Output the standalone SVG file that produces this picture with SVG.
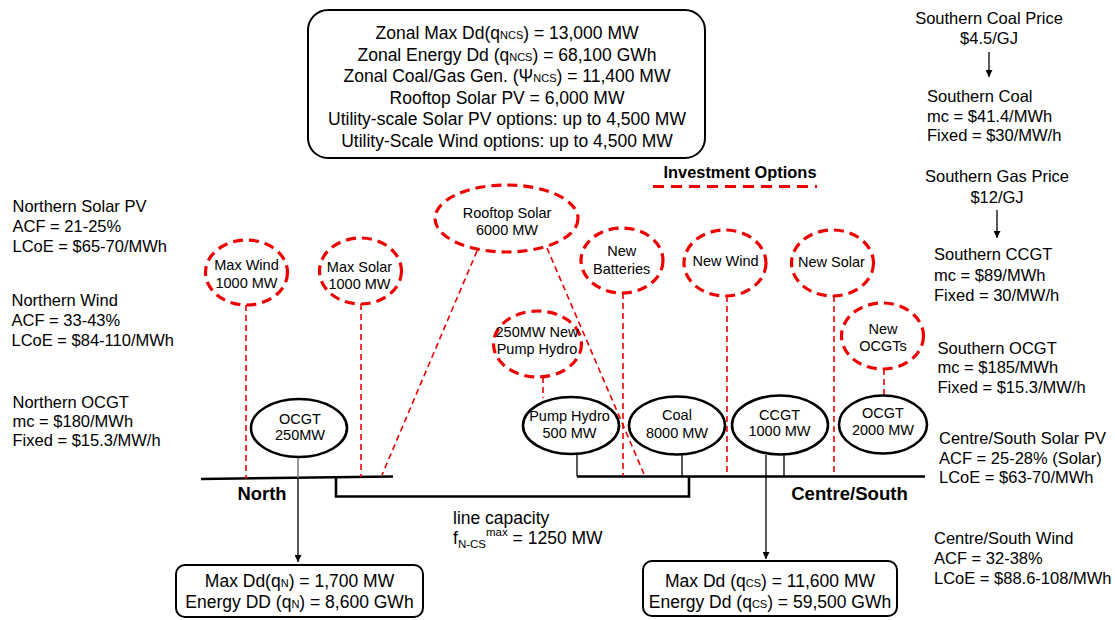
<svg xmlns="http://www.w3.org/2000/svg" width="1115" height="620" viewBox="0 0 1115 620">
<style>
text{font-family:"Liberation Sans",Arial,Helvetica,sans-serif;fill:#000}
.box{fill:#fff;stroke:#000;stroke-width:2}
.gen{fill:#fff;stroke:#000;stroke-width:2.6}
.opt{fill:#fff;stroke:#e00;stroke-width:3.2;stroke-dasharray:10 6}
.rl{fill:none;stroke:#e00;stroke-width:1.6;stroke-dasharray:6 4}
.bus{fill:none;stroke:#000;stroke-width:2.6}
.thin{fill:none;stroke:#000;stroke-width:1.3}
.t14{font-size:14.5px;text-anchor:middle}
.t16{font-size:16.5px}
.t17{font-size:17.5px;text-anchor:middle}
.t18{font-size:18px}
.b{font-weight:bold}
.sm{font-size:11px}
</style>
<defs>
<marker id="arr" viewBox="0 0 10 10" refX="10" refY="5" markerWidth="7" markerHeight="7" markerUnits="userSpaceOnUse" orient="auto">
<path d="M0,0 L10,5 L0,10 z" fill="#000"/>
</marker>
</defs>
<rect width="1115" height="620" fill="#fff"/>

<g id="connectors">
<!-- buses -->
<path class="bus" d="M201,479 L393,476.5"/>
<path class="bus" d="M577,476.5 L925,476.5"/>
<path class="bus" d="M336,477 L336,496.5 L689,496.5 L689,476.5"/>
<!-- generator links -->
<path d="M298,457 L298,478" stroke="#777" stroke-width="1.5" fill="none"/>
<path class="thin" d="M298,478 L298,562" marker-end="url(#arr)"/>
<path class="thin" d="M577,454 L577,476.5"/>
<path class="thin" d="M682,455 L682,476.5"/>
<path class="thin" d="M766,455 L766,559" marker-end="url(#arr)"/>
<path class="thin" d="M784,455 L784,476.5"/>
<!-- price arrows -->
<path class="thin" d="M989,52 L989,77" marker-end="url(#arr)"/>
<path class="thin" d="M997,210 L997,238" marker-end="url(#arr)"/>
<!-- investment option links -->
<path class="rl" d="M246,305 L246,479"/>
<path class="rl" d="M361,304 L361,477"/>
<path class="rl" d="M477,251 L382,475"/>
<path class="rl" d="M547,248 L644,474"/>
<path class="rl" d="M543,377 L543,398"/>
<path class="rl" d="M623,293 L623,476"/>
<path class="rl" d="M727,296 L727,476"/>
<path class="rl" d="M834,296 L834,476"/>
<path class="rl" d="M884,369 L884,395"/>
</g>

<g id="zonal-box">
<rect class="box" x="308" y="10" width="397" height="148" rx="20"/>
<text class="t17" x="507" y="39">Zonal Max Dd(q<tspan class="sm">NCS</tspan>) = 13,000 MW</text>
<text class="t17" x="507" y="60.5">Zonal Energy Dd (q<tspan class="sm">NCS</tspan>) = 68,100 GWh</text>
<text class="t17" x="507" y="82">Zonal Coal/Gas Gen. (Ψ<tspan class="sm">NCS</tspan>) = 11,400 MW</text>
<text class="t17" x="507" y="103.5">Rooftop Solar PV = 6,000 MW</text>
<text class="t17" x="507" y="125">Utility-scale Solar PV options: up to 4,500 MW</text>
<text class="t17" x="507" y="146.5">Utility-Scale Wind options: up to 4,500 MW</text>
</g>

<g id="legend">
<text class="b" x="740" y="178" font-size="16.4" text-anchor="middle">Investment Options</text>
<path d="M653,186.5 L817,186.5" stroke="#e00" stroke-width="3" stroke-dasharray="11 7" fill="none"/>
</g>

<g id="southern-prices" class="t16">
<text x="989" y="24" text-anchor="middle">Southern Coal Price</text>
<text x="989" y="44" text-anchor="middle">$4.5/GJ</text>
<text x="927" y="101.5">Southern Coal</text>
<text x="927" y="121.5">mc = $41.4/MWh</text>
<text x="927" y="141">Fixed = $30/MW/h</text>
<text x="997" y="181.5" text-anchor="middle">Southern Gas Price</text>
<text x="997" y="202.5" text-anchor="middle">$12/GJ</text>
<text x="934" y="260">Southern CCGT</text>
<text x="934" y="280.5">mc = $89/MWh</text>
<text x="934" y="300.5">Fixed = 30/MW/h</text>
<text x="937.5" y="353.5">Southern OCGT</text>
<text x="937.5" y="373">mc = $185/MWh</text>
<text x="937.5" y="393">Fixed = $15.3/MW/h</text>
</g>

<g id="cs-resources" class="t16">
<text x="939" y="443.5">Centre/South Solar PV</text>
<text x="939" y="463.5">ACF = 25-28% (Solar)</text>
<text x="939" y="483">LCoE = $63-70/MWh</text>
<text x="934" y="543.5">Centre/South Wind</text>
<text x="934" y="563.5">ACF = 32-38%</text>
<text x="934" y="583.5">LCoE = $88.6-108/MWh</text>
</g>

<g id="northern-resources" class="t16">
<text x="12.5" y="212">Northern Solar PV</text>
<text x="12.5" y="231.5">ACF = 21-25%</text>
<text x="12.5" y="251.5">LCoE = $65-70/MWh</text>
<text x="11.5" y="306">Northern Wind</text>
<text x="11.5" y="325.5">ACF = 33-43%</text>
<text x="11.5" y="345.5">LCoE = $84-110/MWh</text>
<text x="12.5" y="407.5">Northern OCGT</text>
<text x="12.5" y="427">mc = $180/MWh</text>
<text x="12.5" y="446">Fixed = $15.3/MW/h</text>
</g>

<g id="max-wind">
<ellipse class="opt" cx="246.5" cy="272.5" rx="41" ry="32.5"/>
<text class="t14" x="246.5" y="270">Max Wind</text>
<text class="t14" x="246.5" y="287.5">1000 MW</text>
</g>
<g id="max-solar">
<ellipse class="opt" cx="360.5" cy="271" rx="41" ry="33"/>
<text class="t14" x="359.5" y="271.5">Max Solar</text>
<text class="t14" x="359.5" y="288.5">1000 MW</text>
</g>
<g id="rooftop-solar">
<ellipse class="opt" cx="506.5" cy="218.5" rx="71.5" ry="33.5"/>
<text class="t14" x="507" y="217.5">Rooftop Solar</text>
<text class="t14" x="507" y="235">6000 MW</text>
</g>
<g id="new-pump-hydro">
<ellipse class="opt" cx="537.5" cy="344" rx="44" ry="33"/>
<text class="t14" x="537" y="337">250MW New</text>
<text class="t14" x="537" y="354">Pump Hydro</text>
</g>
<g id="new-batteries">
<ellipse class="opt" cx="622" cy="260.5" rx="41" ry="32.5"/>
<text class="t14" x="621.7" y="256">New</text>
<text class="t14" x="621.7" y="273.5">Batteries</text>
</g>
<g id="new-wind">
<ellipse class="opt" cx="725" cy="263" rx="41" ry="33"/>
<text class="t14" x="725.5" y="266">New Wind</text>
</g>
<g id="new-solar">
<ellipse class="opt" cx="832.5" cy="263" rx="41" ry="33"/>
<text class="t14" x="831.5" y="267">New Solar</text>
</g>
<g id="new-ocgts">
<ellipse class="opt" cx="882.5" cy="336" rx="41" ry="33"/>
<text class="t14" x="883" y="334">New</text>
<text class="t14" x="883" y="351">OCGTs</text>
</g>

<g id="ocgt-north">
<ellipse class="gen" cx="299" cy="428" rx="48" ry="29"/>
<text class="t14" x="300" y="423.5">OCGT</text>
<text class="t14" x="300" y="440">250MW</text>
</g>
<g id="pump-hydro">
<ellipse class="gen" cx="571" cy="425.5" rx="48" ry="28.5"/>
<text class="t14" x="569.5" y="421">Pump Hydro</text>
<text class="t14" x="569.5" y="438">500 MW</text>
</g>
<g id="coal">
<ellipse class="gen" cx="677" cy="425.5" rx="48" ry="29"/>
<text class="t14" x="677" y="420">Coal</text>
<text class="t14" x="677" y="438">8000 MW</text>
</g>
<g id="ccgt">
<ellipse class="gen" cx="780" cy="425" rx="48" ry="29.5"/>
<text class="t14" x="779.5" y="419.5">CCGT</text>
<text class="t14" x="779.5" y="436">1000 MW</text>
</g>
<g id="ocgt-cs">
<ellipse class="gen" cx="883" cy="424.5" rx="44" ry="29"/>
<text class="t14" x="883" y="418">OCGT</text>
<text class="t14" x="883" y="434.5">2000 MW</text>
</g>

<g id="bus-labels">
<text class="b" x="262" y="500" font-size="18.4" text-anchor="middle">North</text>
<text class="b" x="849.5" y="499.5" font-size="18.6" text-anchor="middle">Centre/South</text>
</g>

<g id="line-capacity" class="t18">
<text x="453" y="523.5" font-size="17.5">line capacity</text>
<text x="453" y="543.5" font-size="17.5">f<tspan font-size="11.5" dy="4">N-CS</tspan><tspan font-size="11.5" dy="-12">max</tspan><tspan dy="8"> = 1250 MW</tspan></text>
</g>

<g id="north-demand">
<rect class="box" x="176" y="565" width="247" height="52" rx="9"/>
<text class="t17" x="299.5" y="587" font-size="18">Max Dd(q<tspan class="sm">N</tspan>) = 1,700 MW</text>
<text class="t17" x="299.5" y="607.5" font-size="18">Energy DD (q<tspan class="sm">N</tspan>) = 8,600 GWh</text>
</g>

<g id="cs-demand">
<rect class="box" x="643" y="561" width="254" height="55" rx="9"/>
<text class="t17" x="770" y="587" font-size="18">Max Dd (q<tspan class="sm">CS</tspan>) = 11,600 MW</text>
<text class="t17" x="770" y="607.5" font-size="18">Energy Dd (q<tspan class="sm">CS</tspan>) = 59,500 GWh</text>
</g>
</svg>
